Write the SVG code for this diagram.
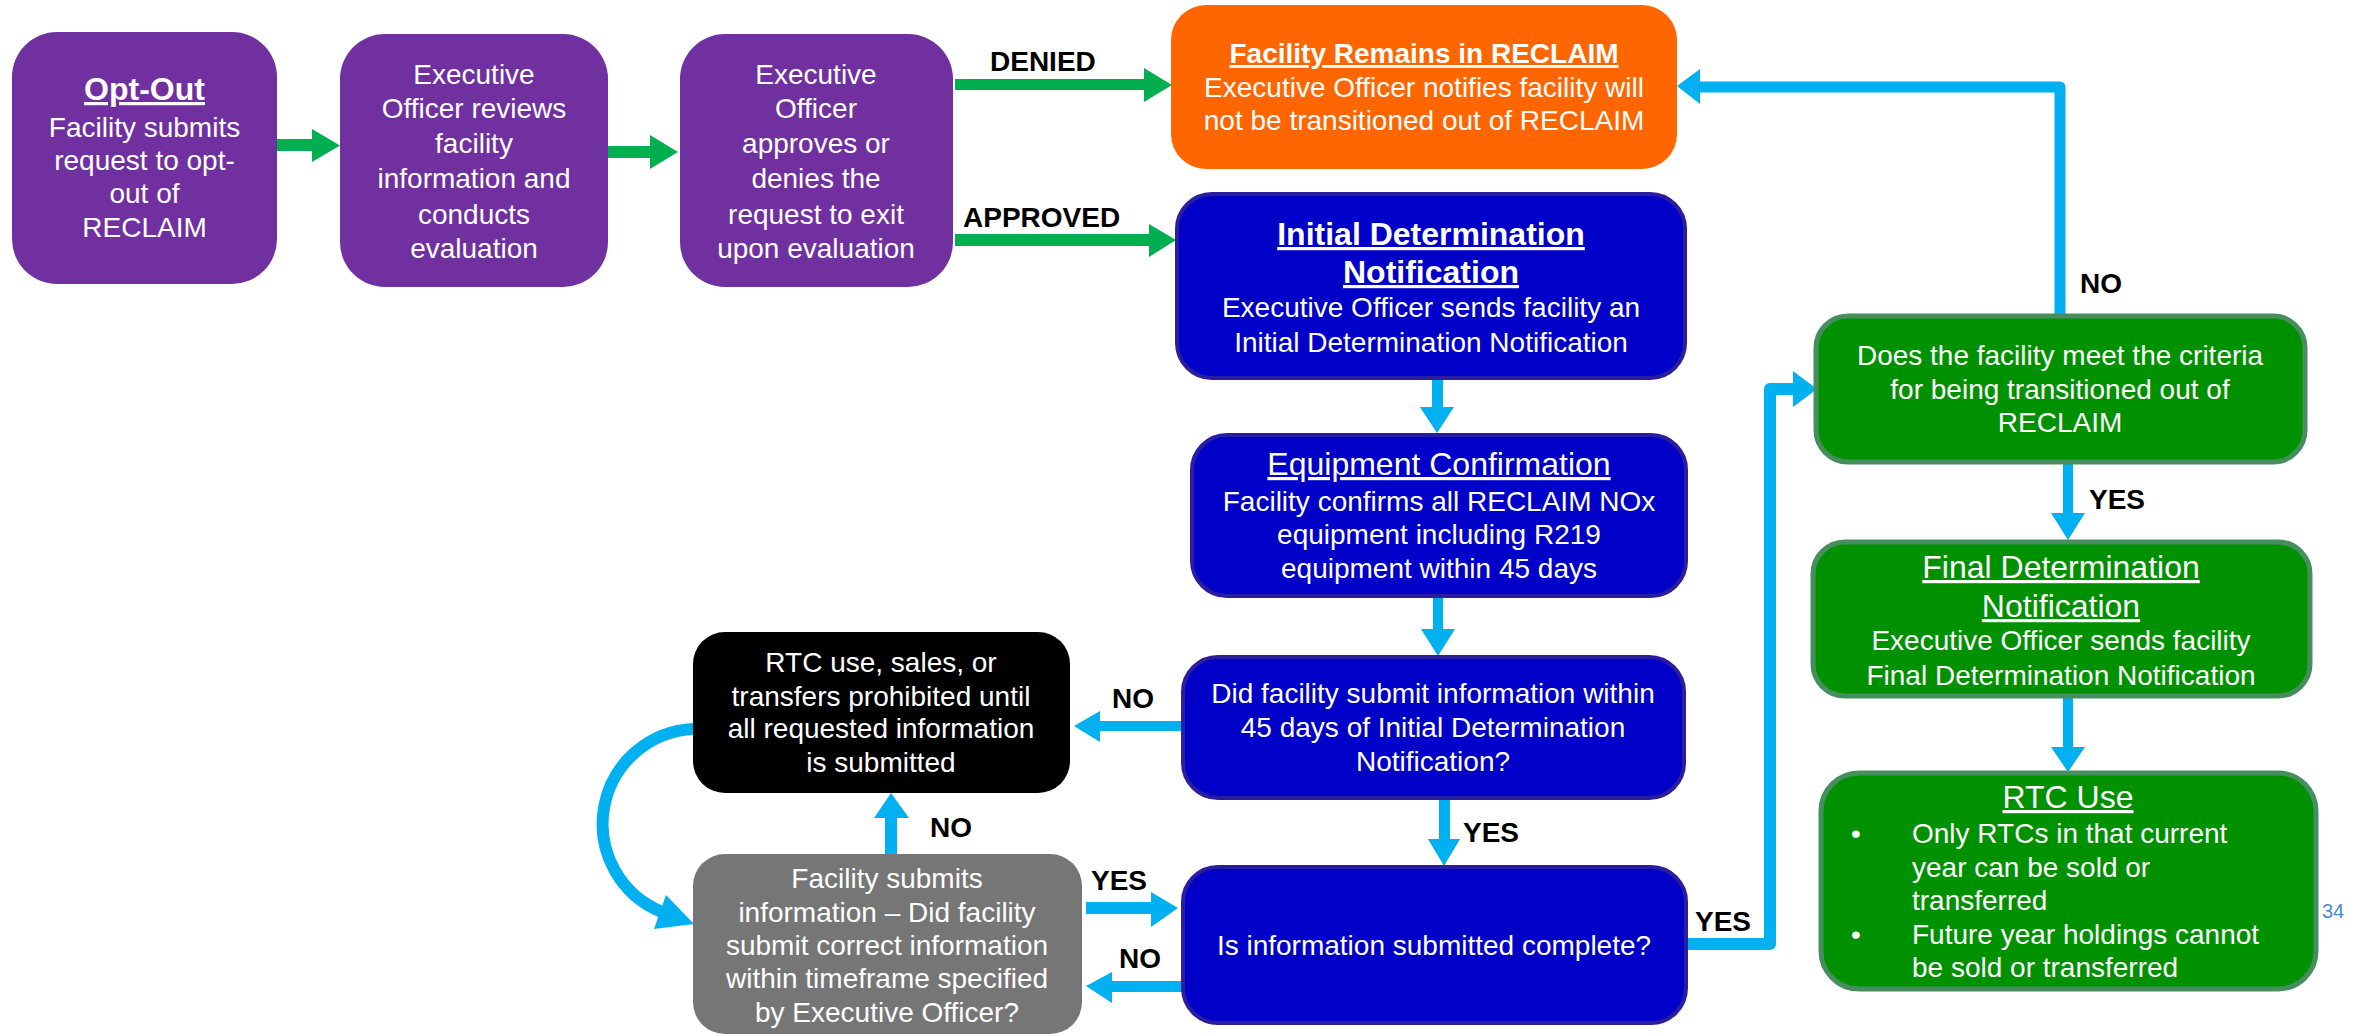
<svg xmlns="http://www.w3.org/2000/svg" width="2359" height="1036" viewBox="0 0 2359 1036">
<style>
text{font-family:"Liberation Sans",Arial,sans-serif;fill:#fff;font-size:28px;text-anchor:middle}
.b{font-weight:bold}
.t{font-size:32px;text-decoration:underline}
.u{text-decoration:underline}
.lbl{fill:#000;font-weight:bold;text-anchor:start}
.purple{fill:#7030A0}
.blue{fill:#0000C8;stroke:#2B1D9E;stroke-width:4}
.green{fill:#009100;stroke:#468E5E;stroke-width:5}
.ga{fill:#00B050}
.ca{fill:#00B0F0}
.cl{fill:none;stroke:#00B0F0;stroke-width:12;stroke-linejoin:round}
</style>
<rect width="2359" height="1036" fill="#fff"/>
<g id="connectors">
<polygon class="ga" points="277,139 312,139 312,129 340,145.5 312,162 312,151 277,151"/>
<polygon class="ga" points="608,146 650,146 650,135 678,152 650,169 650,158 608,158"/>
<polygon class="ga" points="955,79 1144,79 1144,68 1172,85 1144,102 1144,90 955,90"/>
<polygon class="ga" points="955,234 1149,234 1149,224 1176,240 1149,257 1149,246 955,246"/>
<polygon class="ca" points="1432,378 1443,378 1443,407 1454,407 1437,433 1420,407 1432,407"/>
<polygon class="ca" points="1433,596 1443,596 1443,629 1455,629 1438,656 1421,629 1433,629"/>
<polygon class="ca" points="1439,798 1450,798 1450,839 1460,839 1444,866 1428,839 1439,839"/>
<polygon class="ca" points="1183,721 1100,721 1100,711 1074,726 1100,742 1100,731 1183,731"/>
<polygon class="ca" points="885,854 885,818 874,818 891,793 909,818 897,818 897,854"/>
<polygon class="ca" points="1086,902 1151,902 1151,892 1178,908 1151,927 1151,914 1086,914"/>
<polygon class="ca" points="1183,981 1112,981 1112,972 1086,986 1112,1003 1112,992 1183,992"/>
<polyline class="cl" points="1686,944 1770,944 1770,389 1795,389"/>
<polygon class="ca" points="1793,371 1817,389 1793,407"/>
<polyline class="cl" points="2060,316 2060,87 1698,87" style="stroke-width:11"/>
<polygon class="ca" points="1700,69 1677,86 1700,104"/>
<polygon class="ca" points="2063,462 2073,462 2073,513 2085,513 2068,540 2051,513 2063,513"/>
<polygon class="ca" points="2063,696 2073,696 2073,747 2085,747 2068,772 2051,747 2063,747"/>
<path class="cl" d="M694,729 A95,95 0 0 0 662,912"/>
<polygon class="ca" points="654,929 694,924 666,895"/>
<text class="lbl" x="990" y="71">DENIED</text>
<text class="lbl" x="963" y="227">APPROVED</text>
<text class="lbl" x="2080" y="293">NO</text>
<text class="lbl" x="2089" y="509">YES</text>
<text class="lbl" x="1112" y="708">NO</text>
<text class="lbl" x="1463" y="842">YES</text>
<text class="lbl" x="930" y="837">NO</text>
<text class="lbl" x="1091" y="890">YES</text>
<text class="lbl" x="1119" y="968">NO</text>
<text class="lbl" x="1695" y="931">YES</text>
</g>
<g id="opt-out">
<rect class="purple" x="12" y="32" width="265" height="252" rx="45"/>
<text x="144.5" y="100" class="b u" style="font-size:32px">Opt-Out</text>
<text x="144.5" y="137">Facility submits</text>
<text x="144.5" y="170">request to opt-</text>
<text x="144.5" y="203">out of</text>
<text x="144.5" y="237">RECLAIM</text>
</g>
<g id="review">
<rect class="purple" x="340" y="34" width="268" height="253" rx="45"/>
<text x="474" y="84">Executive</text>
<text x="474" y="118">Officer reviews</text>
<text x="474" y="153">facility</text>
<text x="474" y="188">information and</text>
<text x="474" y="224">conducts</text>
<text x="474" y="258">evaluation</text>
</g>
<g id="decide">
<rect class="purple" x="680" y="34" width="273" height="253" rx="45"/>
<text x="816" y="84">Executive</text>
<text x="816" y="118">Officer</text>
<text x="816" y="153">approves or</text>
<text x="816" y="188">denies the</text>
<text x="816" y="224">request to exit</text>
<text x="816" y="258">upon evaluation</text>
</g>
<g id="remains">
<rect x="1171" y="5" width="506" height="164" rx="35" fill="#FF6600"/>
<text x="1424" y="63" class="b u">Facility Remains in RECLAIM</text>
<text x="1424" y="97">Executive Officer notifies facility will</text>
<text x="1424" y="130">not be transitioned out of RECLAIM</text>
</g>
<g id="initial">
<rect class="blue" x="1177" y="194" width="508" height="184" rx="35"/>
<text x="1431" y="245" class="b t">Initial Determination</text>
<text x="1431" y="283" class="b t">Notification</text>
<text x="1431" y="317">Executive Officer sends facility an</text>
<text x="1431" y="352">Initial Determination Notification</text>
</g>
<g id="equipment">
<rect class="blue" x="1192" y="435" width="494" height="161" rx="35"/>
<text x="1439" y="475" class="t">Equipment Confirmation</text>
<text x="1439" y="511">Facility confirms all RECLAIM NOx</text>
<text x="1439" y="544">equipment including R219</text>
<text x="1439" y="578">equipment within 45 days</text>
</g>
<g id="submitted45">
<rect class="blue" x="1183" y="657" width="501" height="141" rx="35"/>
<text x="1433" y="703">Did facility submit information within</text>
<text x="1433" y="737">45 days of Initial Determination</text>
<text x="1433" y="771">Notification?</text>
</g>
<g id="complete">
<rect class="blue" x="1183" y="867" width="503" height="156" rx="35"/>
<text x="1434" y="955">Is information submitted complete?</text>
</g>
<g id="prohibited">
<rect x="693" y="632" width="377" height="161" rx="32" fill="#000"/>
<text x="881" y="672">RTC use, sales, or</text>
<text x="881" y="706">transfers prohibited until</text>
<text x="881" y="738">all requested information</text>
<text x="881" y="772">is submitted</text>
</g>
<g id="resubmit">
<rect x="693" y="854" width="389" height="180" rx="32" fill="#767676"/>
<text x="887" y="888">Facility submits</text>
<text x="887" y="922">information – Did facility</text>
<text x="887" y="955">submit correct information</text>
<text x="887" y="988">within timeframe specified</text>
<text x="887" y="1022">by Executive Officer?</text>
</g>
<g id="criteria">
<rect class="green" x="1816" y="316" width="489" height="146" rx="32"/>
<text x="2060" y="365">Does the facility meet the criteria</text>
<text x="2060" y="399">for being transitioned out of</text>
<text x="2060" y="432">RECLAIM</text>
</g>
<g id="final">
<rect class="green" x="1813" y="542" width="497" height="154" rx="32"/>
<text x="2061" y="578" class="t">Final Determination</text>
<text x="2061" y="617" class="t">Notification</text>
<text x="2061" y="650">Executive Officer sends facility</text>
<text x="2061" y="685">Final Determination Notification</text>
</g>
<g id="rtc-use">
<rect class="green" x="1821" y="773" width="495" height="216" rx="38"/>
<text x="2068" y="808" class="t">RTC Use</text>
<text x="1856" y="843">•</text>
<text x="1912" y="843" style="text-anchor:start">Only RTCs in that current</text>
<text x="1912" y="877" style="text-anchor:start">year can be sold or</text>
<text x="1912" y="910" style="text-anchor:start">transferred</text>
<text x="1856" y="944">•</text>
<text x="1912" y="944" style="text-anchor:start">Future year holdings cannot</text>
<text x="1912" y="977" style="text-anchor:start">be sold or transferred</text>
</g>
<text x="2322" y="918" style="font-size:20px;fill:#4A8CC6;text-anchor:start">34</text>
</svg>
